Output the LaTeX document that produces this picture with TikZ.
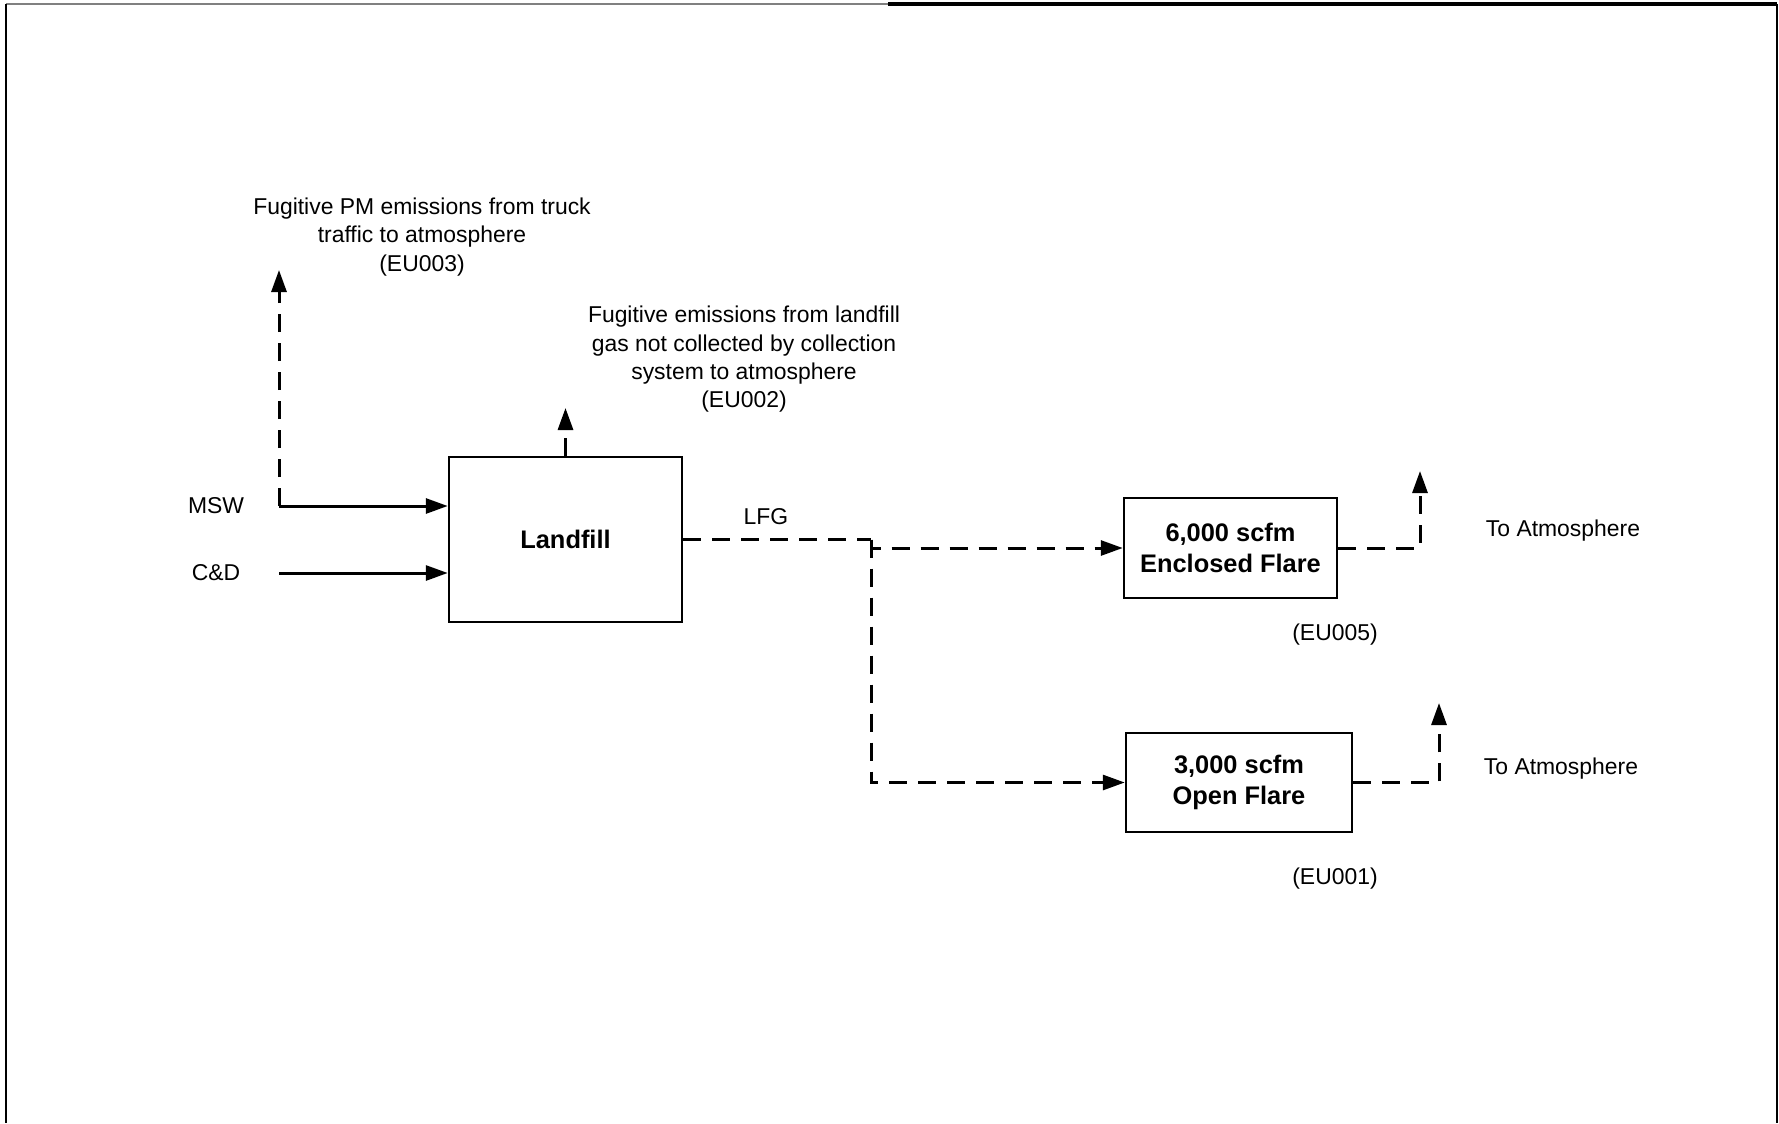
\documentclass[tikz,border=0pt]{standalone}
\usepackage{fontspec}
\setmainfont{Liberation Sans}
\usetikzlibrary{positioning,arrows.meta}

\tikzset{
  unit/.style={draw, line width=2.5bp, inner sep=0pt, align=center,
    font=\fontsize{25.5}{30.5}\selectfont\bfseries},
  feed/.style={line width=3bp, -{Triangle[length=22bp,width=15bp]}},
  gas/.style={line width=3bp, dash pattern=on 18bp off 11bp,
    -{Triangle[length=22bp,width=15bp]}},
  gasline/.style={line width=3bp, dash pattern=on 18bp off 11bp},
  note/.style={align=center, inner sep=0pt, font=\fontsize{23}{28.4}\selectfont}
}

\begin{document}
\begin{tikzpicture}[x=1bp, y=-1bp]
\useasboundingbox (0,0) rectangle (1779,1123);
% frame
\draw[gray, line width=1.5bp] (6,4) -- (888,4);
\draw[line width=4bp] (888,4) -- (1777,4);
\draw[line width=2bp] (6,4) -- (6,1123);
\draw[line width=2bp] (1777,4) -- (1777,1123);
% process units
\node[unit, minimum width=233bp, minimum height=165bp] (landfill) at (565.5,539.5) {Landfill};
\node[unit, minimum width=213bp, minimum height=100bp] (enclosed) at (1230.5,548) {6,000 scfm\\Enclosed Flare};
\node[unit, minimum width=226bp, minimum height=99bp] (openflare) at (1239,782.5) {3,000 scfm\\Open Flare};
% labels
\node[note] (msw) at (216,506) {MSW};
\node[note] (cd) at (216,573) {C\&D};
\node[note] (lfg) at (766,517) {LFG};
\node[note] (eu003) at (422,237) {Fugitive PM emissions from truck\\traffic to atmosphere\\(EU003)};
\node[note] (eu002) at (744,359.5) {Fugitive emissions from landfill\\gas not collected by collection\\system to atmosphere\\(EU002)};
\node[note] (eu005) at (1335,635) {(EU005)};
\node[note] (eu001) at (1335,879) {(EU001)};
\node[note] (atmenc) at (1563,531) {To Atmosphere};
\node[note] (atmopen) at (1561,769) {To Atmosphere};
% free ends of the connectors
\coordinate (mswin) at (279,506);
\coordinate (cdin) at (279,573);
\coordinate (pmout) at (279,270);
\coordinate (lfout) at (565.5,408);
\coordinate (split) at (871,539.5);
\coordinate (encout) at (1420,471);
\coordinate (openout) at (1439,703);
% waste in
\draw[feed] (mswin) -- (mswin -| landfill.west);
\draw[feed] (cdin) -- (cdin -| landfill.west);
% fugitive emissions
\draw[gas] (mswin) -- (pmout);
\draw[gas] (landfill.north) -- (lfout);
% landfill gas to the flares
\draw[gasline] (landfill.east) -- (split);
\draw[gas] (split) |- (enclosed.west);
\draw[gas] (split) |- (openflare.west);
% flare exhaust
\draw[gas] (enclosed.east) -| (encout);
\draw[gas] (openflare.east) -| (openout);
\end{tikzpicture}
\end{document}
